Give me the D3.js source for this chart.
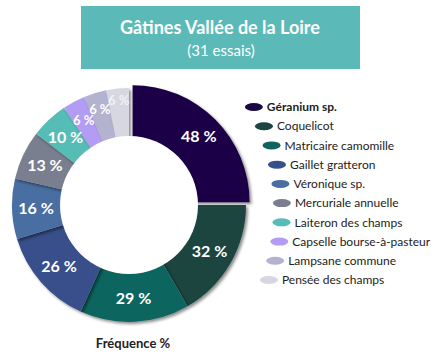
<!DOCTYPE html>
<html>
<head>
<meta charset="utf-8">
<script src="https://cdn.jsdelivr.net/npm/d3@7"></script>
<style>
  body { margin: 0; background: #fff; }
  svg { display: block; font-family: Lato, "Open Sans", sans-serif; }
</style>
</head>
<body>
<div class="freq-donut"></div>
<script>
// data
const species = ["Géranium sp.", "Coquelicot", "Matricaire camomille", "Gaillet gratteron",
    "Véronique sp.", "Mercuriale annuelle", "Laiteron des champs",
    "Capselle bourse-à-pasteur", "Lampsane commune", "Pensée des champs"];
const frequence = [48, 32, 29, 26, 16, 13, 10, 6, 6, 6];
const colors = ["#1b0646", "#1a4540", "#10655f", "#37508b", "#4a6ea2",
    "#7a7f8f", "#56bcb6", "#b39cf4", "#b3b3d0", "#d7d7e1"];
const title = "Gâtines Vallée de la Loire";
const subtitle = "(31 essais)";
const axisLabel = "Fréquence %";

// constants
const width = 440;
const height = 354;
const cx = 129;
const cy = 205;
const outer_r = 117;
const inner_r = 69;

const svg = d3.select(".freq-donut").append("svg")
    .attr("width", width)
    .attr("height", height);

// shadow
const defs = svg.append("defs");
defs.append("filter")
    .attr("id", "shadow")
    .attr("x", "-20%").attr("y", "-20%")
    .attr("width", "140%").attr("height", "140%")
    .append("feDropShadow")
    .attr("dx", 2).attr("dy", 2)
    .attr("stdDeviation", 1.5)
    .attr("flood-color", "#000")
    .attr("flood-opacity", 0.45);

// title box
svg.append("rect")
    .attr("x", 81).attr("y", 6)
    .attr("width", 279).attr("height", 63)
    .attr("fill", "#5bbab7");

svg.append("text")
    .attr("x", 220).attr("y", 34)
    .attr("text-anchor", "middle")
    .attr("fill", "#fff")
    .attr("font-size", "18px")
    .attr("font-weight", 700)
    .text(title);

svg.append("text")
    .attr("x", 221).attr("y", 56)
    .attr("text-anchor", "middle")
    .attr("fill", "#fff")
    .attr("font-size", "15px")
    .text(subtitle);

// pie
const pie = d3.pie().sort(null).value(d => d);
const arcs = pie(frequence);

const arc = d3.arc().innerRadius(0).outerRadius(outer_r);

const g = svg.append("g")
    .attr("transform", "translate(" + cx + "," + cy + ")");

// first slice is pulled out
const explode = function(d, i) {
    if (i === 0) {
        const mid = (d.startAngle + d.endAngle) / 2;
        return "translate(" + (5 * Math.sin(mid)) + "," + (-4 * Math.cos(mid)) + ")";
    }
    return null;
};

g.selectAll(".slice")
    .data(arcs).enter()
    .append("path")
    .attr("class", "slice")
    .attr("d", arc)
    .attr("fill", (d, i) => colors[i])
    .attr("transform", explode)
    .attr("filter", "url(#shadow)");

// hole
g.append("circle")
    .attr("r", inner_r)
    .attr("fill", "#fff");

// value labels
g.selectAll(".val")
    .data(arcs).enter()
    .append("text")
    .attr("class", "val")
    .attr("transform", function(d, i) {
        const mid = (d.startAngle + d.endAngle) / 2;
        let r = 93;
        if (d.value < 8) r = 96 + (i - 7) * 4.5;
        let x = r * Math.sin(mid);
        let y = -r * Math.cos(mid);
        if (i === 0) { x += 4; y -= 3; }
        return "translate(" + x + "," + y + ")";
    })
    .attr("text-anchor", "middle")
    .attr("dy", "0.36em")
    .attr("fill", (d, i) => i === 9 ? "#f2f2f6" : "#fff")
    .attr("font-size", d => d.value < 8 ? "13px" : "16px")
    .attr("font-weight", 700)
    .text(d => d.value + " %");

// axis label
svg.append("text")
    .attr("x", 133).attr("y", 348)
    .attr("text-anchor", "middle")
    .attr("fill", "#222")
    .attr("font-size", "13px")
    .attr("font-weight", 700)
    .text(axisLabel);

// legend, items follow a curve
const leg_y = d3.scaleLinear().domain([0, species.length - 1]).range([107, 280]);
const leg_x = function(i) {
    const dy = leg_y(i) - 209;
    return 83 + Math.sqrt(199 * 199 - dy * dy);
};

const legend = svg.selectAll(".legend")
    .data(species).enter()
    .append("g")
    .attr("class", "legend")
    .attr("transform", (d, i) => "translate(" + leg_x(i) + "," + leg_y(i) + ")");

legend.append("ellipse")
    .attr("rx", 9).attr("ry", 4)
    .attr("fill", (d, i) => colors[i]);

legend.append("text")
    .attr("x", 13)
    .attr("dy", "0.35em")
    .attr("fill", "#222")
    .attr("font-size", "12px")
    .attr("font-weight", (d, i) => i === 0 ? 700 : 400)
    .text(d => d);
</script>
</body>
</html>
